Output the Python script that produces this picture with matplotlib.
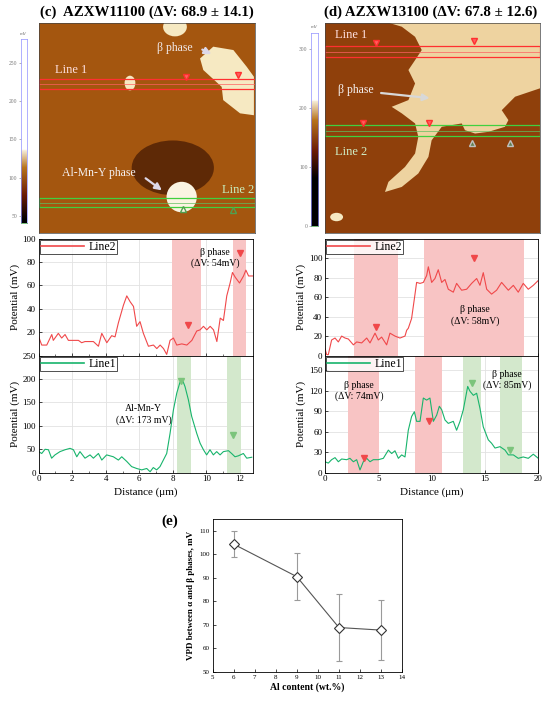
import numpy as np
import matplotlib
matplotlib.use("Agg")
import matplotlib.pyplot as plt
from matplotlib.patches import Polygon, Ellipse, Rectangle
from matplotlib.colors import LinearSegmentedColormap

plt.rcParams['font.family'] = ['Liberation Serif', 'DejaVu Serif']
plt.rcParams['mathtext.fontset'] = 'stix'

RED = '#f0484a'
GREEN = '#18b46c'
RED_SPAN = '#f8c4c4'
GREEN_SPAN = '#d3e8cc'

# ---- (c) AZXW11100 line profiles ----
c_l2_x = [0, 0.18, 0.48, 0.78, 0.87, 1.17, 1.37, 1.57, 1.77, 2.37, 2.56, 2.76, 3.26, 3.56,
          3.76, 4.06, 4.35, 4.55, 4.75, 5.05, 5.25, 5.45, 5.65, 5.84, 6.04, 6.24, 6.54,
          6.84, 7.04, 7.24, 7.44, 7.63, 7.83, 8.03, 8.23, 8.53, 8.83, 9.13, 9.42, 9.62,
          9.82, 10.02, 10.22, 10.42, 10.62, 10.82, 11.01, 11.21, 11.41, 11.55, 11.71,
          11.97, 12.21, 12.35, 12.51, 12.8]
c_l2_y = [16, 9, 9, 18, 13, 19, 15, 18, 13, 13, 11, 12, 12, 8, 19, 11, 17, 16, 28, 43, 51,
          46, 42, 25, 29, 19, 8, 9, 6, 9, 6, 1, 13, 15, 9, 10, 9, 13, 21, 22, 25, 22, 25,
          22, 12, 32, 30, 51, 62, 71, 67, 62, 68, 73, 68, 68]
c_l1_zx = [116, 125, 135, 145, 155, 165, 180, 195, 210, 220, 230, 240, 255, 270, 280, 295,
           305, 320, 340, 355, 365, 380, 395, 410, 425, 440, 450, 460, 470, 480, 490, 500,
           510, 520, 530, 540, 548, 555, 565, 575, 590, 600, 610, 620, 630, 640, 650, 660,
           670, 685, 695, 705, 715, 730, 740, 755]
c_l1_x = [round((v - 116) / 50.33, 2) for v in c_l1_zx]
c_l1_y = [45, 41, 50, 49, 31, 38, 45, 49, 52, 49, 34, 45, 31, 38, 31, 41, 27, 38, 34, 27,
          34, 24, 13, 9, 6, 9, 2, 11, 6, 13, 27, 41, 84, 134, 170, 193, 197, 184, 156, 120,
          84, 63, 49, 38, 49, 38, 45, 38, 45, 47, 41, 34, 36, 41, 31, 33]
c_l2_red = [(7.93, 9.68), (11.61, 12.37)]
c_l1_green = [(8.23, 9.07), (11.25, 12.05)]
c_l2_marks = [(8.89, 26), (11.97, 88)]
c_l1_marks = [(8.5, 195), (11.6, 80)]

# ---- (d) AZXW13100 line profiles ----
d_l2_zx = [150, 155, 160, 170, 180, 190, 200, 210, 220, 235, 245, 260, 275, 285, 300, 310,
           320, 335, 345, 360, 375, 390, 395, 400, 410, 420, 425, 435, 445, 455, 460, 470,
           480, 490, 500, 510, 520, 535, 545, 560, 575, 590, 605, 615, 625, 635, 650, 665,
           680, 700, 715, 730, 745, 760, 775, 790]
d_l2_x = [round((v - 150) / 32, 2) for v in d_l2_zx]
d_l2_y = [7, 1, 1, 16, 18, 14, 20, 18, 17, 11, 14, 13, 18, 13, 23, 16, 19, 11, 23, 20, 18,
          20, 26, 28, 38, 63, 75, 74, 75, 82, 91, 75, 79, 88, 75, 78, 68, 65, 74, 67, 68,
          74, 79, 72, 85, 68, 63, 67, 75, 67, 72, 65, 74, 68, 72, 77]
d_l1_zx = [150, 160, 170, 180, 190, 200, 215, 225, 235, 245, 255, 265, 275, 285, 295, 310,
           325, 340, 350, 360, 370, 380, 390, 400, 410, 418, 425, 435, 445, 455, 465, 475,
           485, 493, 500, 510, 520, 535, 545, 555, 565, 578, 585, 595, 605, 615, 625, 640,
           650, 660, 675, 690, 700, 715, 730, 745, 760, 775, 790]
d_l1_x = [round((v - 150) / 32, 2) for v in d_l1_zx]
d_l1_y = [16, 14, 19, 22, 16, 20, 19, 21, 16, 19, 4, 16, 21, 16, 19, 19, 21, 33, 28, 32,
          21, 26, 23, 62, 82, 89, 75, 75, 109, 106, 109, 75, 84, 97, 92, 77, 72, 75, 62,
          75, 92, 126, 119, 113, 116, 94, 67, 48, 43, 36, 38, 33, 26, 26, 21, 23, 21, 27, 21]
d_l2_red = [(2.69, 6.88), (9.28, 18.69)]
d_l1_red = [(2.13, 5.09), (8.47, 11.0)]
d_l1_green = [(12.97, 14.6), (16.4, 18.44)]
d_l2_marks = [(4.78, 29), (14.0, 100)]
d_l1_red_marks = [(3.66, 21), (9.75, 75)]
d_l1_green_marks = [(13.8, 131), (17.3, 33)]

# ---- (e) VPD vs Al content ----
al_content = [6, 9, 11, 13]
vpd = [104.3, 90.5, 68.9, 67.8]
vpd_err = [5.5, 10.0, 14.1, 12.6]

fig = plt.figure(figsize=(5.5, 7.03), dpi=100)


def px_axes(x0, y0, x1, y1):
    return fig.add_axes([x0 / 550, 1 - y1 / 703, (x1 - x0) / 550, (y1 - y0) / 703])


# ---------------- AFM maps (schematic) ----------------
def afm_map(ax, bg):
    ax.set_facecolor(bg)
    ax.set_xlim(0, 1)
    ax.set_ylim(0, 1)
    ax.set_xticks([])
    ax.set_yticks([])
    for s in ax.spines.values():
        s.set_linewidth(0.5)
        s.set_color('#444444')


BRIGHT = '#f6e9c2'
axc = px_axes(38.7, 22.7, 255, 233)
afm_map(axc, '#a4560f')
axc.add_patch(Ellipse((0.62, 0.31), 0.38, 0.26, color='#5e2906', lw=0))
axc.add_patch(Polygon([(0.746, 0.830), (0.807, 0.886), (0.900, 0.870), (0.962, 0.790),
                       (0.995, 0.743), (0.995, 0.560), (0.931, 0.569), (0.853, 0.632),
                       (0.846, 0.695), (0.761, 0.775)], closed=True, color=BRIGHT, lw=0))
axc.add_patch(Ellipse((0.63, 0.98), 0.11, 0.09, color=BRIGHT, lw=0))
axc.add_patch(Ellipse((0.661, 0.171), 0.14, 0.145, color='#fbf4e2', lw=0))
axc.add_patch(Ellipse((0.422, 0.713), 0.05, 0.07, color=BRIGHT, lw=0))
axc.add_patch(Rectangle((0, 0.683), 1, 0.049, fill=False, ec='#ff3030', lw=0.9))
axc.axhline(0.707, color='#ff6060', lw=0.5)
axc.add_patch(Rectangle((0, 0.124), 1, 0.043, fill=False, ec='#40d040', lw=0.9))
axc.axhline(0.145, color='#60c060', lw=0.5)
axc.text(0.076, 0.775, 'Line 1', color='#ffe0e0', fontsize=9, va='center')
axc.text(0.846, 0.203, 'Line 2', color='#c8f0c0', fontsize=9, va='center')
axc.text(0.545, 0.88, 'β phase', color='#f0e8e8', fontsize=8.5, va='center')
axc.annotate('', xy=(0.81, 0.845), xytext=(0.745, 0.878),
             arrowprops=dict(arrowstyle='-|>', color='#ddd8e8', lw=1.6))
axc.text(0.11, 0.284, 'Al-Mn-Y phase', color='#f5f0f0', fontsize=8.5, va='center')
axc.annotate('', xy=(0.58, 0.195), xytext=(0.484, 0.268),
             arrowprops=dict(arrowstyle='-|>', color='#ddd8e8', lw=1.6))
axc.plot([0.681, 0.923], [0.740, 0.751], 'v', ms=5, mfc='#ff6060', mec='#ff3030')
axc.plot([0.669, 0.9], [0.116, 0.111], '^', ms=5, mfc='none', mec='#50a050')

axd = px_axes(325, 22.7, 540, 233)
afm_map(axd, '#8f400b')
axd.add_patch(Polygon([(0.295, 1.0), (1.0, 1.0), (1.0, 0.688), (0.884, 0.648), (0.822, 0.584),
                       (0.853, 0.537), (0.837, 0.505), (0.760, 0.481), (0.698, 0.473),
                       (0.651, 0.489), (0.636, 0.521), (0.543, 0.505), (0.496, 0.441),
                       (0.481, 0.362), (0.434, 0.283), (0.357, 0.219), (0.279, 0.195),
                       (0.295, 0.243), (0.372, 0.314), (0.419, 0.378), (0.434, 0.457),
                       (0.419, 0.521), (0.357, 0.569), (0.310, 0.600), (0.388, 0.632),
                       (0.419, 0.711), (0.388, 0.775), (0.419, 0.822), (0.450, 0.870),
                       (0.419, 0.933), (0.357, 0.981)], closed=True, color='#eed3a0', lw=0))
axd.add_patch(Ellipse((0.054, 0.076), 0.06, 0.04, color=BRIGHT, lw=0))
axd.add_patch(Rectangle((0, 0.835), 1, 0.054, fill=False, ec='#ff3030', lw=0.9))
axd.axhline(0.862, color='#ff6060', lw=0.5)
axd.add_patch(Rectangle((0, 0.461), 1, 0.051, fill=False, ec='#40d040', lw=0.9))
axd.axhline(0.486, color='#60c060', lw=0.5)
axd.text(0.047, 0.941, 'Line 1', color='#ffe0e0', fontsize=9, va='center')
axd.text(0.047, 0.386, 'Line 2', color='#d0f0c8', fontsize=9, va='center')
axd.text(0.06, 0.679, 'β phase', color='#f5f0f0', fontsize=8.5, va='center')
axd.annotate('', xy=(0.5, 0.64), xytext=(0.248, 0.667),
             arrowprops=dict(arrowstyle='-|>', color='#d8d8d8', lw=1.6))
axd.plot([0.236, 0.694, 0.178, 0.484], [0.905, 0.914, 0.524, 0.524], 'v', ms=5,
         mfc='#ff6060', mec='#ff3030')
axd.plot([0.682, 0.860], [0.426, 0.426], '^', ms=5, mfc='#608050', mec='#c0c0c0')


# ---------------- colour bars ----------------
def colour_bar(x0, y0, x1, y1, vmin, vmax, white_from, black_to, ticks):
    cax = px_axes(x0, y0, x1, y1)
    lo = (black_to - vmin) / (vmax - vmin)
    hi = (white_from - vmin) / (vmax - vmin)
    cmap = LinearSegmentedColormap.from_list('afm', [
        (0, 'black'), (lo, 'black'), (lo + (hi - lo) * 0.35, '#6a1a06'),
        (lo + (hi - lo) * 0.75, '#b8741e'), (hi, '#f7f0dc'), (min(hi + 0.001, 1), 'white'),
        (1, 'white')])
    grad = np.linspace(vmin, vmax, 256)[:, None]
    cax.imshow(grad, aspect='auto', cmap=cmap, origin='lower',
               extent=[0, 1, vmin, vmax], vmin=vmin, vmax=vmax)
    cax.set_xticks([])
    cax.set_yticks(ticks)
    cax.tick_params(axis='y', labelsize=4, colors='#777777', length=1.5, width=0.4, pad=1)
    for s in cax.spines.values():
        s.set_linewidth(0.5)
        s.set_color('#9090ff')
    cax.spines['bottom'].set_color('#40a040')
    cax.text(0.5, 1.02, 'mV', transform=cax.transAxes, ha='center', va='bottom',
             fontsize=3.5, color='#777777')
    return cax


colour_bar(20.7, 39.3, 26.7, 222.7, 41, 281, 136, 45, [50, 100, 150, 200, 250])
colour_bar(311, 33.3, 318.3, 226, 0, 326, 212, 80, [0, 100, 200, 300])


# ---------------- line profiles ----------------
def profile_axes(x0, x1, y0, y1):
    ax = px_axes(x0, y0, x1, y1)
    ax.grid(True, color='#e2e2e2', lw=0.6)
    ax.set_axisbelow(True)
    ax.tick_params(direction='in', labelsize=6.5, length=2.5, width=0.5, pad=2)
    ax.tick_params(which='minor', direction='in', length=1.5, width=0.4)
    for s in ax.spines.values():
        s.set_linewidth(0.6)
    return ax


def legend(ax, color, label):
    ax.legend([plt.Line2D([], [], color=color, lw=1.2)], [label], loc='upper left',
              fontsize=8.5, frameon=True, fancybox=False, edgecolor='black',
              handlelength=3.6, borderpad=0.1, borderaxespad=0.1, handletextpad=0.4
              ).get_frame().set_linewidth(0.6)


# (c)
ax = profile_axes(38.7, 252.6, 238.5, 355.6)
for a, b in c_l2_red:
    ax.axvspan(a, b, color=RED_SPAN, lw=0)
ax.plot(c_l2_x, c_l2_y, color=RED, lw=0.8)
ax.plot(*zip(*c_l2_marks), 'v', ms=4, color=RED)
ax.set_xlim(0, 12.75)
ax.set_ylim(0, 100)
ax.set_yticks([20, 40, 60, 80, 100])
ax.set_xticks(range(0, 13, 2))
ax.set_xticks(range(1, 13, 2), minor=True)
ax.tick_params(labelbottom=False)
ax.set_ylabel('Potential (mV)', fontsize=8, labelpad=2)
ax.text(10.52, 88, 'β phase', fontsize=7, ha='center', va='center')
ax.text(10.52, 79, '(ΔV: 54mV)', fontsize=7, ha='center', va='center')
legend(ax, RED, 'Line2')

ax = profile_axes(38.7, 252.6, 355.6, 472.7)
for a, b in c_l1_green:
    ax.axvspan(a, b, color=GREEN_SPAN, lw=0)
ax.plot(c_l1_x, c_l1_y, color=GREEN, lw=0.8)
ax.plot(*zip(*c_l1_marks), 'v', ms=4, color='#7cc47c')
ax.set_xlim(0, 12.75)
ax.set_ylim(0, 250)
ax.set_yticks([0, 50, 100, 150, 200, 250])
ax.set_xticks(range(0, 13, 2))
ax.set_xticks(range(1, 13, 2), minor=True)
ax.set_ylabel('Potential (mV)', fontsize=8, labelpad=2)
ax.set_xlabel('Distance (μm)', fontsize=8, labelpad=3)
ax.text(6.24, 138, 'Al-Mn-Y', fontsize=7, ha='center', va='center')
ax.text(6.24, 113, '(ΔV: 173 mV)', fontsize=7, ha='center', va='center')
legend(ax, GREEN, 'Line1')

# (d)
ax = profile_axes(325, 538.3, 238.5, 355.6)
for a, b in d_l2_red:
    ax.axvspan(a, b, color=RED_SPAN, lw=0)
ax.plot(d_l2_x, d_l2_y, color=RED, lw=0.8)
ax.plot(*zip(*d_l2_marks), 'v', ms=4, color=RED)
ax.set_xlim(0, 20)
ax.set_ylim(0, 120)
ax.set_yticks([0, 20, 40, 60, 80, 100])
ax.set_xticks(range(0, 21, 5))
ax.tick_params(labelbottom=False)
ax.set_ylabel('Potential (mV)', fontsize=8, labelpad=2)
ax.text(14.06, 47, 'β phase', fontsize=7, ha='center', va='center')
ax.text(14.06, 35, '(ΔV: 58mV)', fontsize=7, ha='center', va='center')
legend(ax, RED, 'Line2')

ax = profile_axes(325, 538.3, 355.6, 472.7)
for a, b in d_l1_red:
    ax.axvspan(a, b, color=RED_SPAN, lw=0)
for a, b in d_l1_green:
    ax.axvspan(a, b, color=GREEN_SPAN, lw=0)
ax.plot(d_l1_x, d_l1_y, color=GREEN, lw=0.8)
ax.plot(*zip(*d_l1_red_marks), 'v', ms=4, color=RED)
ax.plot(*zip(*d_l1_green_marks), 'v', ms=4, color='#7cc47c')
ax.set_xlim(0, 20)
ax.set_ylim(0, 171)
ax.set_yticks([0, 30, 60, 90, 120, 150])
ax.set_xticks(range(0, 21, 5))
ax.set_ylabel('Potential (mV)', fontsize=8, labelpad=2)
ax.set_xlabel('Distance (μm)', fontsize=8, labelpad=3)
ax.text(3.19, 128, 'β phase', fontsize=7, ha='center', va='center')
ax.text(3.19, 111, '(ΔV: 74mV)', fontsize=7, ha='center', va='center')
ax.text(17.1, 144, 'β phase', fontsize=7, ha='center', va='center')
ax.text(17.1, 128, '(ΔV: 85mV)', fontsize=7, ha='center', va='center')
legend(ax, GREEN, 'Line1')

# titles
fig.text(147 / 550, 1 - 12 / 703, '(c)  AZXW11100 (ΔV: 68.9 ± 14.1)', ha='center',
         va='center', fontsize=10.7, fontweight='bold')
fig.text(431 / 550, 1 - 12 / 703, '(d) AZXW13100 (ΔV: 67.8 ± 12.6)', ha='center',
         va='center', fontsize=10.7, fontweight='bold')

# ---------------- (e) ----------------
ax = px_axes(212.7, 519, 402, 672)
ax.errorbar(al_content, vpd, yerr=vpd_err, fmt='none', ecolor='#9a9a9a', elinewidth=0.8,
            capsize=2.5, capthick=0.8)
ax.plot(al_content, vpd, color='#555555', lw=0.8, marker='D', ms=5.5, mfc='white',
        mec='#333333', mew=0.8)
ax.set_xlim(5, 14)
ax.set_ylim(50, 115)
ax.set_xticks(range(5, 15))
ax.set_yticks(range(50, 111, 10))
ax.tick_params(direction='in', labelsize=5, length=2, width=0.5, pad=2)
for s in ax.spines.values():
    s.set_linewidth(0.6)
ax.set_xlabel('Al content (wt.%)', fontsize=7, fontweight='bold', labelpad=2)
ax.set_ylabel('VPD between α and β phases, mV', fontsize=6.5, fontweight='bold', labelpad=3)
fig.text(170 / 550, 1 - 521 / 703, '(e)', fontsize=11, fontweight='bold', ha='center',
         va='center')

fig.savefig('out.png', dpi=100)
